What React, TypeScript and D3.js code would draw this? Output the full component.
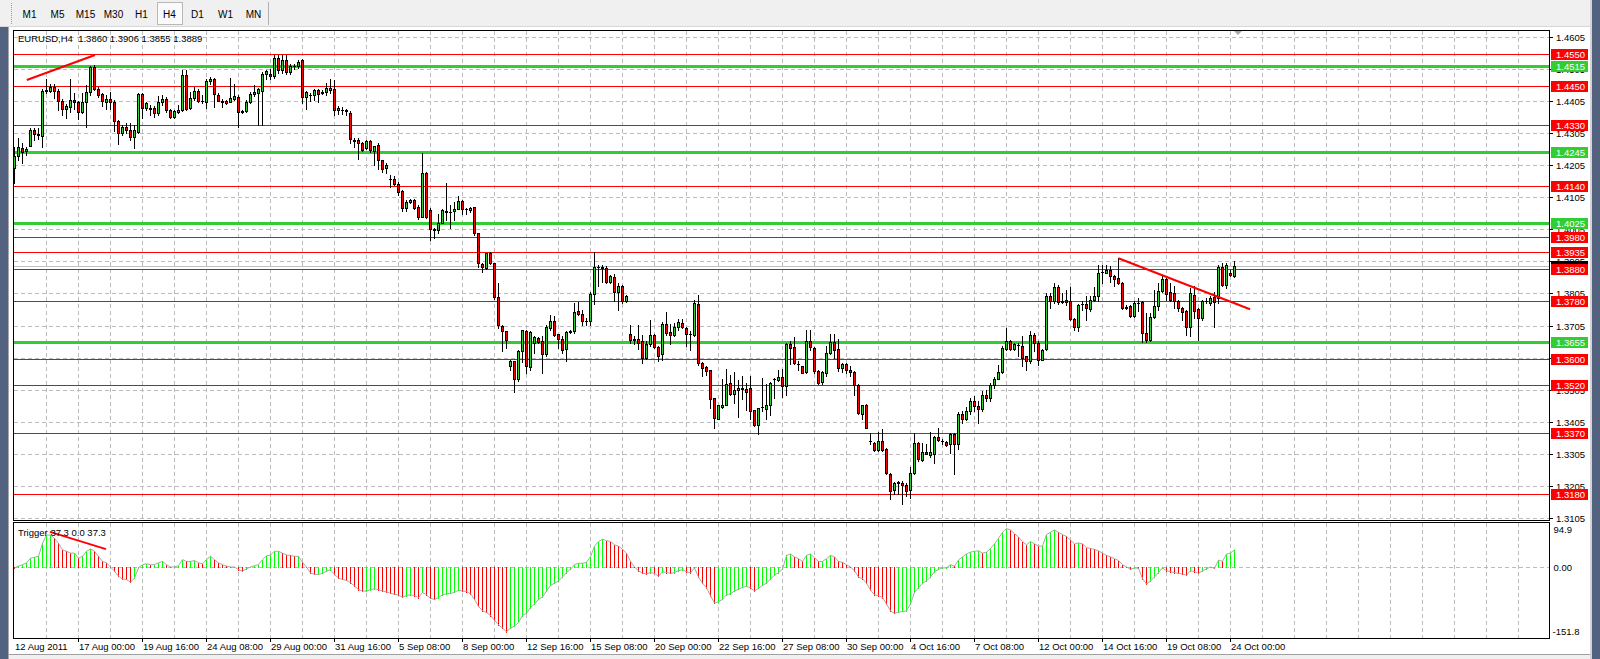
import React from 'react';
import * as d3 from 'd3';

const FONT = '"Liberation Sans", Arial, sans-serif';

// EURUSD H4 candles, [open, high, low, close] in pips above 1.3000
const wkAug12 = [[1195,1262,1148,1233],[1233,1290,1221,1262],[1259,1273,1211,1247],[1248,1262,1236,1255]];
const wkAug15 = [[1265,1319,1264,1313],[1313,1319,1283,1301],[1301,1319,1286,1300],[1296,1443,1262,1437],[1436,1474,1428,1438],[1436,1459,1433,1449],[1449,1459,1414,1435],[1437,1443,1376,1404],[1406,1412,1361,1381],[1379,1394,1350,1388],[1387,1474,1371,1407],[1407,1428,1381,1400],[1402,1404,1348,1369],[1369,1428,1366,1402],[1400,1454,1324,1431],[1431,1514,1423,1510],[1510,1516,1438,1443],[1443,1449,1418,1423],[1425,1428,1390,1404],[1400,1423,1381,1410],[1410,1433,1381,1400],[1402,1407,1311,1342],[1342,1345,1270,1304],[1304,1330,1299,1323],[1323,1335,1304,1315],[1315,1335,1283,1293],[1293,1330,1257,1314],[1309,1428,1304,1426],[1426,1430,1350,1383],[1383,1402,1376,1397]];
const wkAug22 = [[1381,1392,1361,1383],[1383,1390,1355,1366],[1366,1421,1361,1402],[1402,1423,1392,1412],[1412,1418,1371,1375],[1375,1381,1352,1355],[1355,1376,1352,1373],[1371,1392,1366,1375],[1375,1500,1373,1487],[1487,1500,1376,1381],[1383,1433,1379,1414],[1414,1449,1407,1435],[1435,1443,1402,1406],[1406,1423,1397,1405],[1402,1474,1383,1466],[1466,1480,1459,1472],[1472,1477,1387,1425],[1423,1428,1404,1406],[1406,1412,1386,1400],[1404,1407,1394,1399],[1402,1477,1400,1414],[1412,1456,1407,1421],[1418,1423,1324,1371],[1369,1376,1366,1373],[1373,1407,1371,1402],[1402,1433,1397,1427],[1425,1454,1421,1433],[1428,1445,1330,1441],[1437,1495,1330,1490],[1490,1500,1474,1497]];
const wkAug29 = [[1490,1503,1472,1483],[1483,1547,1477,1537],[1537,1547,1493,1500],[1500,1547,1493,1531],[1531,1547,1490,1495],[1495,1521,1490,1514],[1512,1521,1505,1513],[1512,1532,1508,1526],[1531,1534,1397,1418],[1418,1435,1381,1433],[1422,1428,1404,1423],[1423,1443,1407,1438],[1438,1443,1402,1425],[1428,1438,1425,1433],[1431,1462,1423,1445],[1438,1474,1428,1445],[1443,1469,1360,1375],[1375,1390,1365,1382],[1378,1385,1365,1376],[1376,1380,1360,1372],[1368,1372,1275,1285],[1284,1290,1261,1281],[1282,1290,1225,1274],[1274,1278,1248,1253],[1259,1282,1255,1279],[1279,1282,1245,1251],[1249,1265,1204,1263],[1266,1275,1194,1222],[1222,1222,1184,1194],[1197,1210,1179,1204]];
const wkSep05 = [[1162,1173,1137,1163],[1163,1170,1142,1147],[1147,1152,1111,1122],[1124,1127,1063,1072],[1072,1096,1063,1090],[1089,1099,1086,1095],[1096,1099,1068,1072],[1074,1080,1037,1044],[1044,1243,1042,1180],[1180,1184,1039,1044],[1065,1070,970,1005],[1005,1008,977,1003],[1003,1052,992,1025],[1025,1067,1023,1065],[1060,1150,1034,1062],[1060,1080,1008,1059],[1062,1091,1034,1068],[1068,1108,1068,1093],[1094,1096,1052,1067],[1068,1070,1052,1067],[1065,1073,1060,1070],[1074,1075,987,992],[992,994,886,899],[897,899,873,886],[884,932,880,930],[930,935,897,899],[899,901,787,794],[794,839,697,708],[703,708,625,687],[689,689,635,661]];
const wkSep12 = [[578,599,568,596],[593,594,499,539],[537,630,532,627],[625,690,591,690],[689,692,558,578],[575,687,568,685],[651,673,620,669],[666,668,650,654],[657,671,558,617],[617,708,610,699],[696,739,692,720],[720,736,671,677],[680,680,635,664],[664,671,620,628],[632,687,594,685],[686,692,682,687],[687,775,682,747],[751,777,739,741],[742,754,708,720],[718,728,708,719],[718,808,706,804],[803,934,772,887],[887,894,827,886],[887,894,842,883],[884,889,837,842],[842,862,838,860],[856,866,780,808],[808,837,752,829],[829,832,775,782],[782,801,777,798]];
const wkSep19 = [[680,708,651,659],[662,673,646,660],[662,708,632,650],[656,677,589,604],[604,656,600,649],[646,723,640,677],[677,680,635,638],[638,640,594,611],[615,715,597,710],[710,746,677,682],[684,710,648,675],[675,713,671,700],[700,725,692,715],[713,725,697,700],[697,702,640,679],[679,687,628,678],[677,785,672,775],[773,801,583,589],[589,591,547,573],[576,580,552,563],[565,568,449,477],[478,480,387,418],[415,459,413,456],[452,537,449,459],[457,570,456,523],[527,552,490,492],[492,560,465,503],[503,534,421,511],[509,547,475,508],[506,525,442,499]];
const wkSep26 = [[511,547,413,439],[441,442,392,395],[395,449,366,449],[451,542,439,452],[446,523,415,459],[457,529,426,527],[537,542,478,538],[535,568,532,545],[545,570,483,518],[518,651,490,646],[646,656,584,635],[638,669,584,589],[586,594,568,585],[580,580,556,558],[560,692,556,658],[658,692,630,637],[635,637,556,563],[563,566,524,527],[530,563,524,560],[558,640,547,620],[620,680,617,655],[655,680,604,628],[632,664,563,573],[573,589,561,586],[586,589,558,566],[568,580,549,561],[561,563,490,520],[520,522,428,433],[430,459,413,457],[456,462,385,387]];
const wkOct03 = [[346,371,335,345],[340,342,314,318],[318,374,314,346],[346,382,314,318],[320,322,244,247],[244,247,164,190],[193,219,180,216],[216,221,180,217],[216,221,149,209],[209,213,175,190],[193,263,169,245],[245,371,242,338],[340,342,283,289],[286,340,283,312],[312,335,304,306],[301,374,294,311],[304,361,278,359],[359,385,345,349],[346,351,335,345],[343,345,330,333],[336,371,309,368],[368,371,242,336],[337,435,320,428],[428,440,400,415],[415,452,410,440],[440,480,430,470],[470,485,440,455],[455,470,400,445],[445,500,440,490],[490,505,470,478]];
const wkOct10 = [[478,525,470,520],[520,545,510,537],[537,583,537,561],[560,640,556,635],[633,697,630,656],[656,661,630,633],[633,651,630,646],[644,651,609,643],[642,673,578,604],[609,611,568,596],[596,687,589,677],[677,682,625,651],[651,656,583,599],[599,633,597,630],[632,806,630,798],[798,806,759,783],[783,837,775,825],[825,832,772,777],[780,806,775,779],[785,816,770,777],[780,825,721,725],[725,728,692,700],[700,773,687,770],[772,780,754,773],[773,796,723,759],[756,796,749,785],[785,825,780,798],[798,894,780,870],[872,894,837,873],[870,894,868,878]];
const wkOct17 = [[878,892,842,858],[860,863,827,849],[852,915,834,837],[837,842,756,759],[762,770,756,761],[765,770,732,734],[734,780,732,775],[775,790,749,776],[777,780,653,682],[682,744,653,661],[661,744,656,732],[732,816,728,765],[765,837,754,814],[814,863,811,850],[850,860,785,804],[808,837,780,785],[806,827,759,780],[780,785,749,759],[759,762,723,746],[749,754,677,702],[699,822,671,806],[801,827,728,751],[756,759,661,728],[728,785,723,780],[780,790,775,781],[775,796,770,790],[795,811,702,778],[790,894,775,887],[887,899,827,832],[832,899,821,894]];
const wkOct24 = [[870,878,858,863],[860,906,855,889]];
const candles = [...wkAug12, ...wkAug15, ...wkAug22, ...wkAug29, ...wkSep05, ...wkSep12, ...wkSep19, ...wkSep26, ...wkOct03, ...wkOct10, ...wkOct17, ...wkOct24];

// "Trigger" oscillator, one value per bar
const triggerAug = [-2,2,5,9,19,21,23,51,69,69,62,51,37,34,30,30,19,23,34,39,34,23,12,9,0,-9,-20,-26,-27,-33,-24,-2,5,7,5,5,9,12,5,0,0,3,16,12,12,14,9,7,16,23,16,9,5,2,0,0,-6,-9,-4,0,3,5,16,24,26,34,34,30,26,25,23,23,10,0,-13,-16,-16,-14,-9,-6,-16,-24,-27,-29,-34,-41,-49,-52,-52,-49,-47,-49,-52,-54,-57,-59];
const triggerSep = [-61,-65,-62,-60,-62,-66,-55,-60,-68,-70,-66,-60,-58,-57,-55,-50,-52,-53,-58,-70,-85,-95,-98,-105,-115,-125,-132,-140,-132,-128,-120,-105,-100,-88,-80,-70,-65,-52,-40,-35,-30,-22,-12,-5,5,8,8,10,22,45,55,60,57,55,48,45,38,30,12,0,-8,-14,-15,-12,-14,-20,-10,-12,-14,-12,-8,-6,-10,-13,-2,-22,-35,-45,-62,-78,-75,-70,-60,-58,-52,-48,-44,-42,-45,-52,-46,-40,-35,-26,-18,-12,-5,25,28,22,18,12,25,28,20,12,12,18,25,22,12,10,5,0,-8,-22,-25,-35];
const triggerOct = [-50,-60,-62,-66,-80,-95,-100,-98,-96,-95,-80,-55,-45,-35,-30,-22,-10,-5,-2,-2,5,2,15,22,28,32,34,35,30,32,40,50,62,75,83,80,72,65,55,48,55,50,45,45,70,75,80,75,70,66,58,50,52,50,42,40,38,35,30,25,22,18,14,5,0,-5,-2,-3,-25,-37,-30,-22,-12,-2,-8,-10,-12,-14,-15,-18,-8,-10,-14,-8,-4,0,-3,15,12,28,30,37.3];
const trigger = [...triggerAug, ...triggerSep, ...triggerOct];

const timeLabels = ['12 Aug 2011','17 Aug 00:00','19 Aug 16:00','24 Aug 08:00','29 Aug 00:00','31 Aug 16:00','5 Sep 08:00','8 Sep 00:00','12 Sep 16:00','15 Sep 08:00','20 Sep 00:00','22 Sep 16:00','27 Sep 08:00','30 Sep 00:00','4 Oct 16:00','7 Oct 08:00','12 Oct 00:00','14 Oct 16:00','19 Oct 08:00','24 Oct 00:00'];
const barsPerLabel = 16;
const barsPerGrid = 8;
const priceTicks = [1.3105,1.3205,1.3305,1.3405,1.3505,1.3605,1.3705,1.3805,1.3905,1.4005,1.4105,1.4205,1.4305,1.4405,1.4505,1.4605];
const redLevels = [1.4550,1.4450,1.4330,1.4140,1.3980,1.3935,1.3880,1.3780,1.3600,1.3520,1.3370,1.3180];
const greenLevels = [1.4515,1.4245,1.4025,1.3655];
const bidPrice = 1.3889;
const triggerTicks = [94.9, 0, -151.8];
const timeframes = ['M1','M5','M15','M30','H1','H4','D1','W1','MN'];
const activeTf = 'H4';
const priceTrends = [[[3.2,1.44699],[20.25,1.45478]],[[276.1,1.39145],[309,1.37556]]];
const triggerTrend = [[9,76],[23,38.6]];
const title = 'EURUSD,H4  1.3860 1.3906 1.3855 1.3889';
const subTitle = 'Trigger 37.3 0.0 37.3';

const W = 1600, H = 659;
const L = 13, R = 1549;
const PT = 30, PB = 520, IT = 522, IB = 638;

const xBar = d3.scaleLinear().domain([0, 1]).range([14, 18]);
const yPrice = d3.scaleLinear().domain([1.30992, 1.46257]).range([PB, PT]);
const yTrig = d3.scaleLinear().domain([-151.8, 94.9]).range([637.2, 523.1]);
const px = (p: number) => 1.3 + p / 10000;
const fmt = d3.format('.4f');

const RED = '#ff0000';
const GREEN = '#32cd32';
const GRID = '#bcbcbc';

export default function App() {
  const nGrid = Math.floor((R - 14) / 32);
  const vGrid = d3.range(1, nGrid + 1).map((k) => Math.round(xBar(k * barsPerGrid)));
  const trigLine = d3.line<number>().x((_, i) => xBar(i) + 0.5).y((v) => yTrig(v));
  const y0 = Math.round(yTrig(0));

  return (
    <div style={{ position: 'fixed', left: 0, top: 0, width: W, height: H }}>
      <svg width={W} height={H} style={{ display: 'block', fontFamily: FONT }} shapeRendering="crispEdges">
        <rect x={0} y={0} width={W} height={H} fill="#ffffff" />
        {/* toolbar */}
        <rect x={0} y={0} width={W} height={27} fill="#f0f0f0" />
        <line x1={0} y1={26.5} x2={W} y2={26.5} stroke="#d8d8d8" />
        {d3.range(3, 24, 2).map((y) => (
          <rect key={'g' + y} x={11} y={y} width={1} height={1} fill="#9a9a9a" />
        ))}
        <line x1={268.5} y1={2} x2={268.5} y2={25} stroke="#b0b0b0" />
        {timeframes.map((tf, i) => {
          const cx = 29.5 + 28 * i;
          return (
            <g key={tf}>
              {tf === activeTf && (
                <rect x={157.5} y={2.5} width={25} height={22} fill="#fafafa" stroke="#b8b8b8" />
              )}
              <text x={cx} y={18} fontSize={10} textAnchor="middle" fill="#000">{tf}</text>
            </g>
          );
        })}
        {/* window frame */}
        <rect x={0} y={27} width={8} height={H - 27} fill="#53627f" />
        <rect x={8} y={27} width={1} height={H - 27} fill="#a8a8a8" />
        <rect x={1590} y={0} width={2} height={H} fill="#d4d4d4" />
        <rect x={1592} y={0} width={8} height={H} fill="#53627f" />
        <rect x={9} y={654} width={1581} height={5} fill="#f0f0f0" />
        <line x1={9} y1={654.5} x2={1590} y2={654.5} stroke="#a0a0a0" />

        {/* price panel grid */}
        {priceTicks.map((p) => {
          const y = Math.round(yPrice(p)) + 0.5;
          return (
            <g key={'pt' + p}>
              <line x1={L + 1} x2={R} y1={y} y2={y} stroke={GRID} strokeDasharray="4,3" />
              <line x1={R} x2={R + 4} y1={y} y2={y} stroke="#000" />
              <text x={1556} y={y + 3.5} fontSize={9.5} fill="#000">{fmt(p)}</text>
            </g>
          );
        })}
        {vGrid.map((x) => (
          <g key={'vg' + x}>
            <line x1={x + 0.5} x2={x + 0.5} y1={PT + 1} y2={PB} stroke={GRID} strokeDasharray="4,3" />
            <line x1={x + 0.5} x2={x + 0.5} y1={IT + 1} y2={IB} stroke={GRID} strokeDasharray="4,3" />
          </g>
        ))}
        <line x1={L + 1} x2={R} y1={y0 + 0.5} y2={y0 + 0.5} stroke={GRID} strokeDasharray="4,3" />

        {/* bid line */}
        <line x1={L + 1} x2={R} y1={Math.round(yPrice(bidPrice)) + 0.5} y2={Math.round(yPrice(bidPrice)) + 0.5} stroke="#c0c0c0" />
        {/* horizontal levels */}
        {redLevels.map((p) => {
          const y = Math.round(yPrice(p));
          return <rect key={'rl' + p} x={L + 1} y={y} width={R - L - 1} height={1} fill={RED} />;
        })}
        {greenLevels.map((p) => {
          const y = Math.round(yPrice(p));
          return <rect key={'gl' + p} x={L + 1} y={y - 1} width={R - L - 1} height={3} fill={GREEN} />;
        })}

        {/* candles */}
        <g>
          {candles.map(([o, h, l, c], i) => {
            const x = Math.round(xBar(i));
            const yH = Math.round(yPrice(px(h)));
            const yL = Math.round(yPrice(px(l)));
            const yT = Math.round(yPrice(px(Math.max(o, c))));
            const yB = Math.round(yPrice(px(Math.min(o, c))));
            return (
              <g key={'c' + i}>
                <rect x={x} y={yH} width={1} height={yL - yH + 1} fill="#000" />
                <rect x={x - 1} y={yT} width={3} height={yB - yT + 1} fill="#000" />
                {yB - yT >= 2 && (
                  <rect x={x} y={yT + 1} width={1} height={yB - yT - 1} fill={c >= o ? GREEN : RED} />
                )}
              </g>
            );
          })}
        </g>

        {/* trend lines */}
        {priceTrends.map(([a, b], k) => (
          <line key={'tr' + k} x1={xBar(a[0])} y1={yPrice(a[1])} x2={xBar(b[0])} y2={yPrice(b[1])} stroke={RED} strokeWidth={2} shapeRendering="auto" />
        ))}

        {/* price labels of levels */}
        {(() => {
          const yb = Math.round(yPrice(bidPrice));
          return (
            <g>
              <rect x={1551} y={yb - 5} width={37} height={11} fill="#000" />
              <text x={1556} y={yb + 4} fontSize={9.5} fill="#fff">{fmt(bidPrice)}</text>
            </g>
          );
        })()}
        {[...redLevels.map((p) => [p, RED] as [number, string]), ...greenLevels.map((p) => [p, GREEN] as [number, string])].map(([p, col]) => {
          const y = Math.round(yPrice(p));
          return (
            <g key={'lb' + p}>
              <rect x={1551} y={y - 5} width={37} height={11} fill={col} />
              <text x={1556} y={y + 4} fontSize={9.5} fill="#fff">{fmt(p)}</text>
            </g>
          );
        })}

        {/* shift marker */}
        <path d="M1234,31 L1242,31 L1238,35 Z" fill="#a8a8a8" shapeRendering="auto" />

        {/* indicator histogram */}
        {trigger.map((v, i) => {
          const x = Math.round(xBar(i));
          const yv = Math.round(yTrig(v));
          const up = i === 0 ? v >= 0 : v >= trigger[i - 1];
          return (
            <rect key={'h' + i} x={x} y={Math.min(y0, yv)} width={1} height={Math.abs(yv - y0) + 1} fill={up ? '#00ff00' : '#ff0000'} />
          );
        })}
        <path d={trigLine(trigger) || ''} fill="none" stroke="#a8a8a8" strokeWidth={1} shapeRendering="auto" />
        <line x1={xBar(triggerTrend[0][0])} y1={yTrig(triggerTrend[0][1])} x2={xBar(triggerTrend[1][0])} y2={yTrig(triggerTrend[1][1])} stroke={RED} strokeWidth={2} shapeRendering="auto" />

        {/* indicator axis */}
        {triggerTicks.map((t, k) => {
          const yy = [533, 570.5, 635][k];
          return (
            <text key={'it' + k} x={t < 0 ? 1552.5 : 1553.5} y={yy} fontSize={9.5} fill="#000">
              {t === 0 ? '0.00' : t.toFixed(1)}
            </text>
          );
        })}

        {/* panel borders */}
        <rect x={L + 0.5} y={PT + 0.5} width={R - L} height={PB - PT} fill="none" stroke="#000" />
        <rect x={L + 0.5} y={IT + 0.5} width={R - L} height={IB - IT} fill="none" stroke="#000" />

        {/* time axis */}
        {timeLabels.map((t, k) => {
          const x = Math.round(xBar(k * barsPerLabel));
          return (
            <g key={'tl' + k}>
              {k > 0 && <line x1={x + 0.5} x2={x + 0.5} y1={IB} y2={IB + 4} stroke="#000" />}
              <text x={x + 1} y={650} fontSize={9.5} fill="#000">{t}</text>
            </g>
          );
        })}

        {/* titles */}
        <text x={18} y={41.5} fontSize={9.5} fill="#000" style={{ whiteSpace: 'pre' }}>{title}</text>
        <text x={18} y={536} fontSize={9.5} fill="#000">{subTitle}</text>
      </svg>
    </div>
  );
}
